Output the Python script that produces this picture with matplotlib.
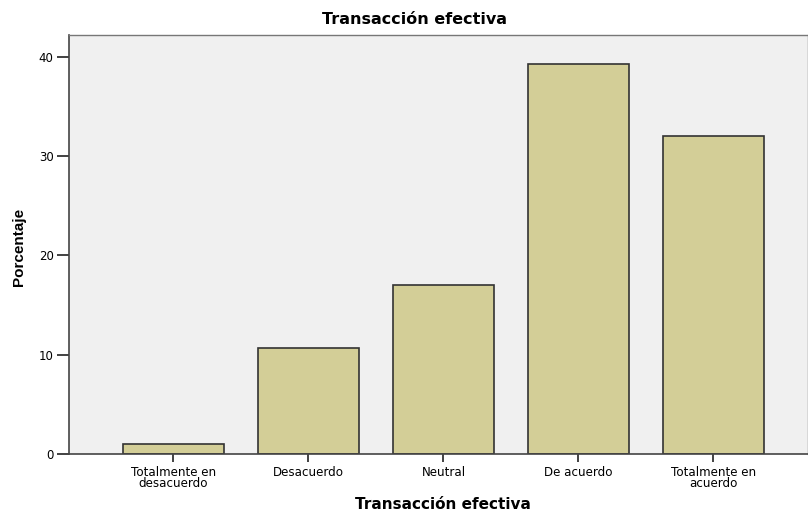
import matplotlib
matplotlib.use('Agg')
import matplotlib.pyplot as plt

categories = ['Totalmente en\ndesacuerdo', 'Desacuerdo', 'Neutral', 'De acuerdo', 'Totalmente en\nacuerdo']
porcentaje = [1.0, 10.7, 17.0, 39.3, 32.0]
yticks = [0, 10, 20, 30, 40]

plt.rcParams['font.family'] = ['DejaVu Sans']

fig = plt.figure(figsize=(8.08, 5.11), dpi=100)
ax = fig.add_axes([69/808, 57/511, 1 - 69/808, (454 - 35)/511])
ax.set_facecolor('#f0f0f0')

x = list(range(len(categories)))
ax.bar(x, porcentaje, width=0.75, color='#d3ce97', edgecolor='#333333', linewidth=1.2, zorder=2)

ax.set_xlim(-0.774, 4.70)
ax.set_ylim(0, 40 + (57 - 35) / 9.93)
ax.set_yticks(yticks)
ax.set_xticks(x)
ax.set_xticklabels(categories, fontsize=8.6, linespacing=0.8)
ax.tick_params(axis='y', labelsize=8.5, length=9, width=1.3, color='#333333', pad=2)
ax.tick_params(axis='x', length=5.5, width=1.3, color='#333333', pad=3)

for s in ['left', 'bottom']:
    ax.spines[s].set_color('#444444')
    ax.spines[s].set_linewidth(1.2)
for s in ['top', 'right']:
    ax.spines[s].set_color('#777777')
    ax.spines[s].set_linewidth(1.0)

fig.text(415/808, 1 - 20/511, 'Transacción efectiva', fontsize=11.5, fontweight='bold',
         ha='center', va='center')
ax.set_xlabel('Transacción efectiva', fontsize=11, fontweight='bold', va='center')
ax.xaxis.set_label_coords((443 - 69) / 739, -(504 - 454) / 419)
ax.set_ylabel('Porcentaje', family='Liberation Sans', fontsize=11, fontweight='bold', va='center')
ax.yaxis.set_label_coords((19 - 69) / 739, (454 - 247) / 419)

fig.savefig('out.png', dpi=100)
